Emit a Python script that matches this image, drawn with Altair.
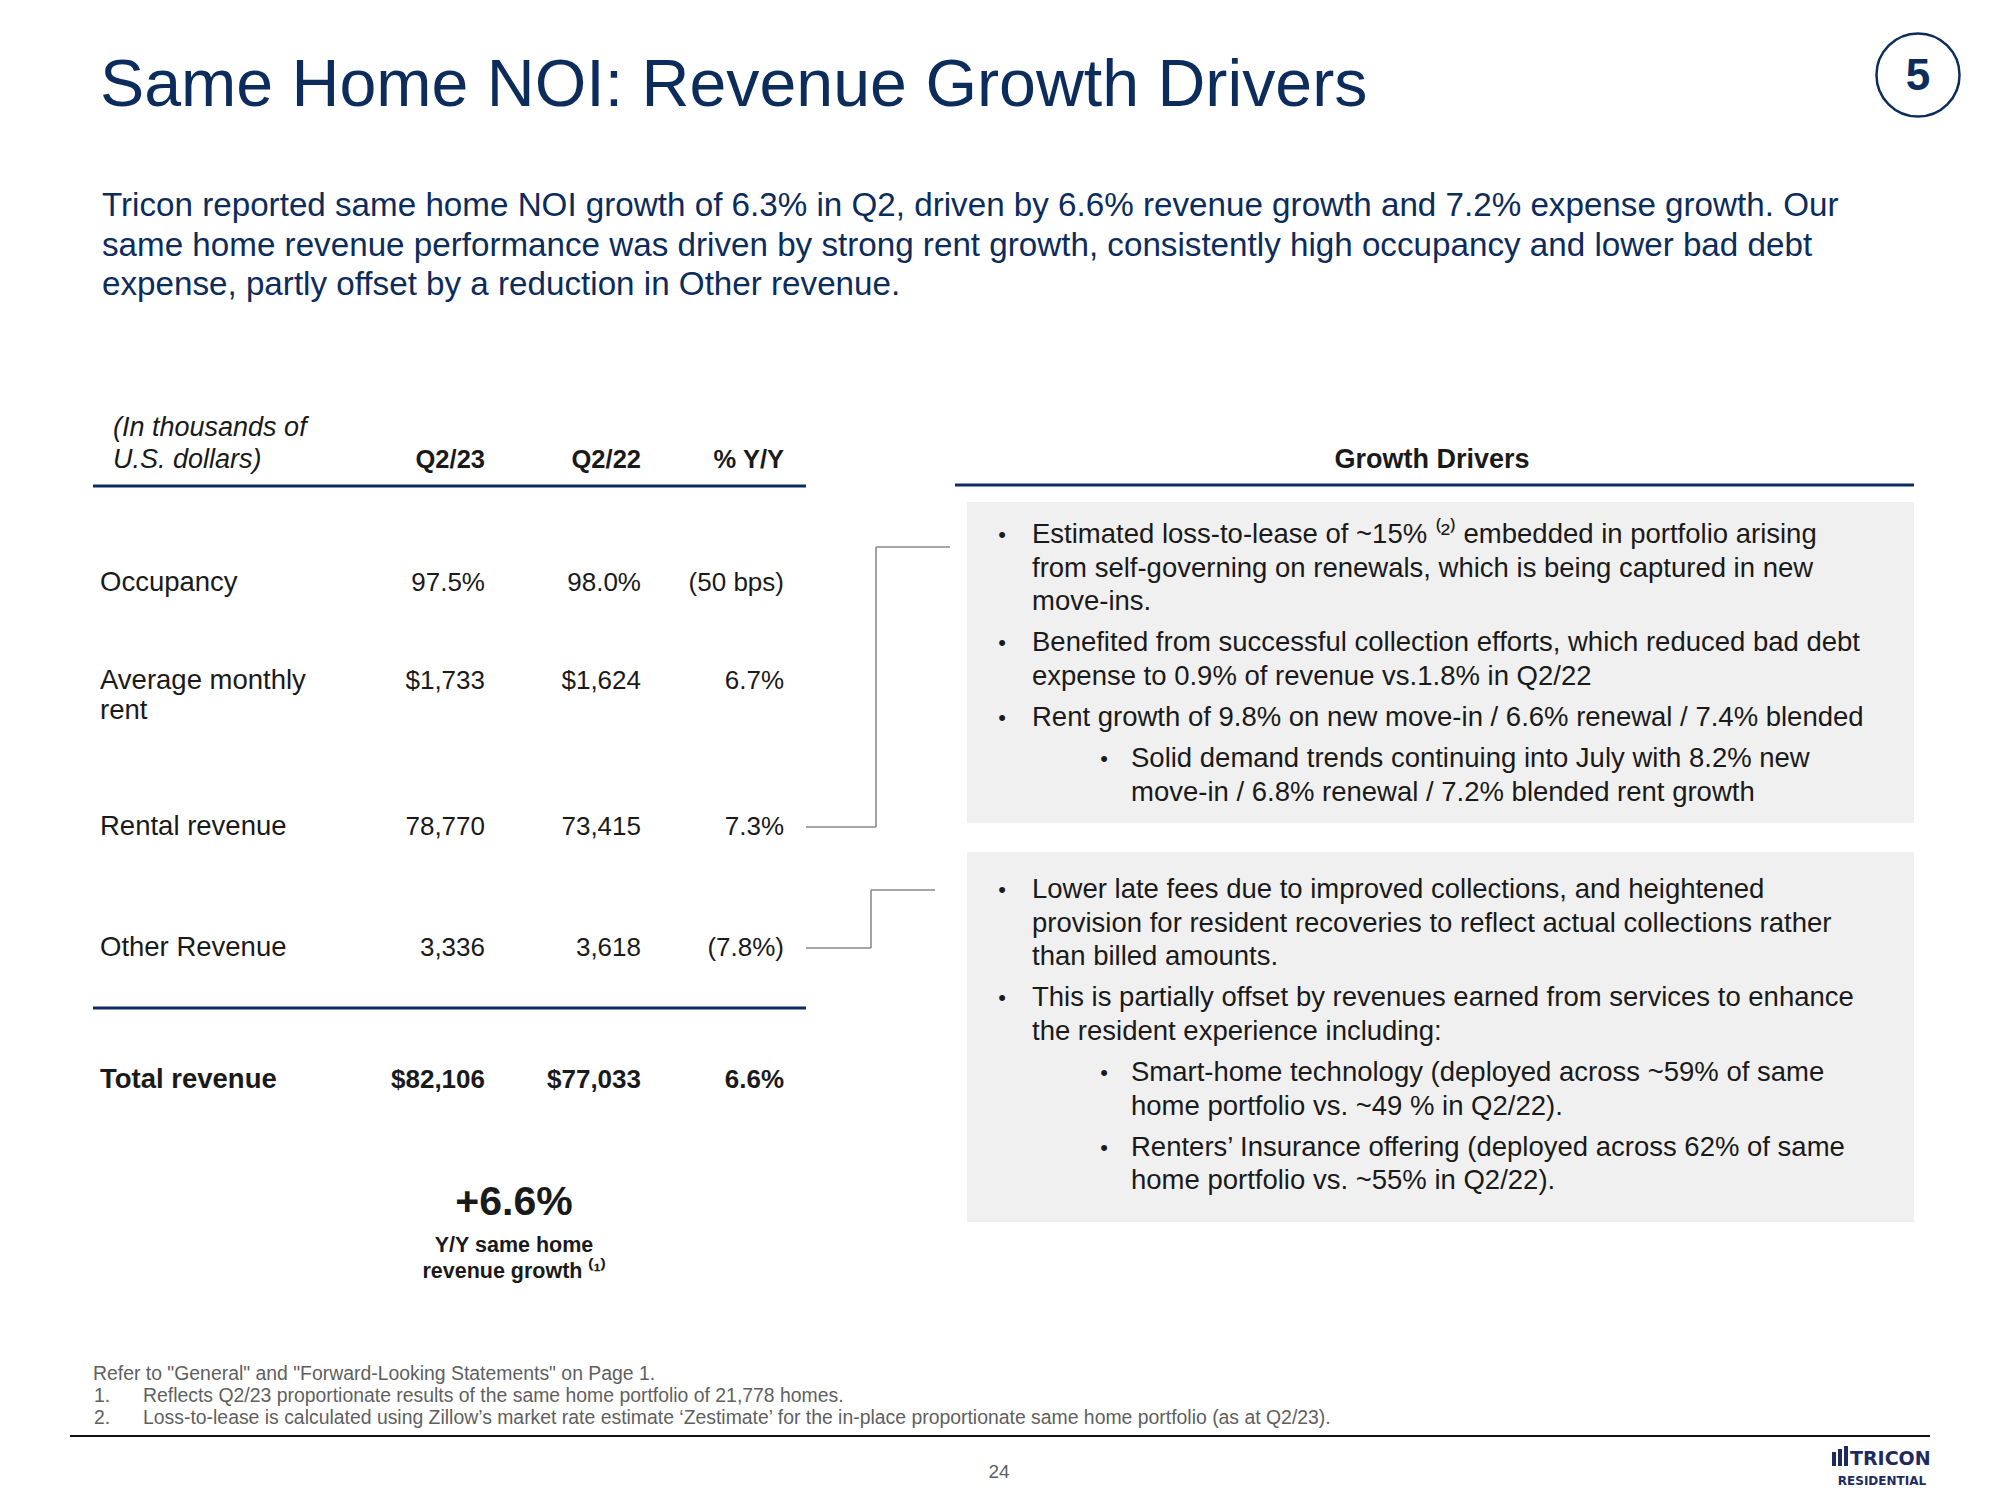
import altair as alt
import pandas as pd

# ---------------- content ----------------
title = "Same Home NOI: Revenue Growth Drivers"
section_no = "5"
intro_lines = [
    "Tricon reported same home NOI growth of 6.3% in Q2, driven by 6.6% revenue growth and 7.2% expense growth. Our",
    "same home revenue performance was driven by strong rent growth, consistently high occupancy and lower bad debt",
    "expense, partly offset by a reduction in Other revenue.",
]
unit_note = ["(In thousands of", "U.S. dollars)"]
col_headers = ["Q2/23", "Q2/22", "% Y/Y"]
row_labels = [["Occupancy"], ["Average monthly", "rent"], ["Rental revenue"], ["Other Revenue"], ["Total revenue"]]
q2_23 = ["97.5%", "$1,733", "78,770", "3,336", "$82,106"]
q2_22 = ["98.0%", "$1,624", "73,415", "3,618", "$77,033"]
yoy = ["(50 bps)", "6.7%", "7.3%", "(7.8%)", "6.6%"]
headline_value = "+6.6%"
headline_caption = ["Y/Y same home", "revenue growth \u207d\u00b9\u207e"]
drivers_title = "Growth Drivers"
box1_items = [
    (0, ["Estimated loss-to-lease of ~15% \u207d\u00b2\u207e embedded in portfolio arising",
         "from self-governing on renewals, which is being captured in new",
         "move-ins."]),
    (0, ["Benefited from successful collection efforts, which reduced bad debt",
         "expense to 0.9% of revenue vs.1.8% in Q2/22"]),
    (0, ["Rent growth of 9.8% on new move-in / 6.6% renewal / 7.4% blended"]),
    (1, ["Solid demand trends continuing into July with 8.2% new",
         "move-in / 6.8% renewal / 7.2% blended rent growth"]),
]
box2_items = [
    (0, ["Lower late fees due to improved collections, and heightened",
         "provision for resident recoveries to reflect actual collections rather",
         "than billed amounts."]),
    (0, ["This is partially offset by revenues earned from services to enhance",
         "the resident experience including:"]),
    (1, ["Smart-home technology (deployed across ~59% of same",
         "home portfolio vs. ~49 % in Q2/22)."]),
    (1, ["Renters\u2019 Insurance offering (deployed across 62% of same",
         "home portfolio vs. ~55% in Q2/22)."]),
]
footnote_intro = 'Refer to "General" and "Forward-Looking Statements" on Page 1.'
footnotes = [
    "Reflects Q2/23 proportionate results of the same home portfolio of 21,778 homes.",
    "Loss-to-lease is calculated using Zillow\u2019s market rate estimate \u2018Zestimate\u2019 for the in-place proportionate same home portfolio (as at Q2/23).",
]
page_no = "24"
logo_words = ["TRICON", "RESIDENTIAL"]
logo_bar_heights = [14, 17, 20]

# ---------------- layout / style ----------------
NAVY = "#0c2c5c"
INK = "#1a1a1a"
GREY = "#5f5f5f"
CONNECTOR = "#8a8a8a"
BOX = "#f0f0f0"
LOGO = "#1f2b5e"
FONT = "Liberation Sans"

W, H = 1984, 1484
X = alt.X("x:Q", scale=alt.Scale(domain=[8, 8 + W], nice=False, zero=False), axis=None)
Y = alt.Y("y:Q", scale=alt.Scale(domain=[8, 8 + H], nice=False, zero=False, reverse=True), axis=None)


def text_layer(rows, **mk):
    df = pd.DataFrame(rows, columns=["x", "y", "t"])
    base = dict(font=FONT, baseline="middle", align="left")
    base.update(mk)
    return alt.Chart(df).mark_text(**base).encode(x=X, y=Y, text="t:N")


def rule_layer(rows, color, width):
    df = pd.DataFrame(rows, columns=["x", "x2", "y", "y2"])
    return alt.Chart(df).mark_rule(color=color, strokeWidth=width).encode(
        x=X, x2="x2:Q", y=Y, y2="y2:Q")


def rect_layer(rows, color):
    df = pd.DataFrame(rows, columns=["x", "x2", "y", "y2"])
    return alt.Chart(df).mark_rect(color=color).encode(x=X, x2="x2:Q", y=Y, y2="y2:Q")


layers = []

# title + section badge
layers.append(text_layer([(100, 106, title)], fontSize=66.3, color=NAVY, baseline="alphabetic"))
layers.append(alt.Chart(pd.DataFrame({"x": [1918], "y": [75]})).mark_point(
    shape="circle", size=6900, filled=False, color=NAVY, strokeWidth=2.5, opacity=1).encode(x=X, y=Y))
layers.append(text_layer([(1918, 77, section_no)], fontSize=44, fontWeight="bold", color=NAVY, align="center"))

# intro paragraph
intro_y0, intro_lh = 206, 39.5
layers.append(text_layer([(102, intro_y0 + i * intro_lh, s) for i, s in enumerate(intro_lines)],
                         fontSize=33.2, color=NAVY))

# ---- table ----
label_x = 100
col_x = [485, 641, 784]
row_y = [583, 681, 827, 948, 1080]
label_lh = 30
layers.append(text_layer([(113, 428 + i * 32, s) for i, s in enumerate(unit_note)],
                         fontSize=27, fontStyle="italic", color=INK))
layers.append(text_layer([(cx, 460, h) for cx, h in zip(col_x, col_headers)],
                         fontSize=25.5, fontWeight="bold", color=INK, align="right"))
layers.append(rule_layer([(93, 806, 486, 486), (93, 806, 1008, 1008)], NAVY, 3))

reg_labels, bold_labels, reg_vals, bold_vals = [], [], [], []
for i, lines in enumerate(row_labels):
    target_l = bold_labels if i == len(row_labels) - 1 else reg_labels
    target_v = bold_vals if i == len(row_labels) - 1 else reg_vals
    for j, s in enumerate(lines):
        target_l.append((label_x, row_y[i] + j * label_lh, s))
    for cx, v in zip(col_x, (q2_23[i], q2_22[i], yoy[i])):
        target_v.append((cx, row_y[i], v))
layers.append(text_layer(reg_labels, fontSize=27.5, color=INK))
layers.append(text_layer(bold_labels, fontSize=27.5, fontWeight="bold", color=INK))
layers.append(text_layer(reg_vals, fontSize=26, color=INK, align="right"))
layers.append(text_layer(bold_vals, fontSize=26, fontWeight="bold", color=INK, align="right"))

# headline figure
layers.append(text_layer([(514, 1203, headline_value)], fontSize=41, fontWeight="bold", color=INK, align="center"))
layers.append(text_layer([(514, 1246 + i * 26, s) for i, s in enumerate(headline_caption)],
                         fontSize=21.5, fontWeight="bold", color=INK, align="center"))

# connectors from table rows to driver boxes
layers.append(rule_layer([
    (806, 876, 827, 827), (876, 876, 827, 547), (876, 950, 547, 547),
    (806, 871, 948, 948), (871, 871, 948, 890), (871, 935, 890, 890),
], CONNECTOR, 1.6))

# ---- growth drivers panel ----
layers.append(text_layer([(1432, 460, drivers_title)], fontSize=27, fontWeight="bold", color=INK, align="center"))
layers.append(rule_layer([(955, 1914, 485, 485)], NAVY, 3))
layers.append(rect_layer([(967, 1914, 502, 823), (967, 1914, 852, 1222)], BOX))

bullet_x = [1002, 1104]
text_x = [1032, 1131]
line_h, para_gap = 33.6, 7.5
bullet_rows, body_rows = [], []
for items, y0 in ((box1_items, 535), (box2_items, 890)):
    y = y0
    for level, lines in items:
        bullet_rows.append((bullet_x[level], y, "\u2022"))
        for s in lines:
            body_rows.append((text_x[level], y, s))
            y += line_h
        y += para_gap
layers.append(text_layer(bullet_rows, fontSize=22, color=INK, align="center"))
layers.append(text_layer(body_rows, fontSize=27.5, color=INK))

# ---- footnotes ----
layers.append(text_layer([(93, 1374, footnote_intro)], fontSize=19.4, color=GREY))
layers.append(text_layer([(94, 1396 + i * 22, f"{i + 1}.") for i in range(len(footnotes))], fontSize=19.4, color=GREY))
layers.append(text_layer([(143, 1396 + i * 22, s) for i, s in enumerate(footnotes)], fontSize=19.4, color=GREY))
layers.append(rule_layer([(70, 1930, 1436, 1436)], "#111111", 2))
layers.append(text_layer([(999, 1472, page_no)], fontSize=19, color=GREY, align="center"))

# logo
bars = [(1832 + k * 6, 1836 + k * 6, 1466 - h, 1466) for k, h in enumerate(logo_bar_heights)]
layers.append(rect_layer(bars, LOGO))
layers.append(text_layer([(1850, 1459, logo_words[0])], font="DejaVu Sans", fontSize=19, fontWeight="bold", color=LOGO))
layers.append(text_layer([(1882, 1481, logo_words[1])], font="DejaVu Sans", fontSize=12, fontWeight="bold", color=LOGO, align="center"))

chart = alt.layer(*layers).properties(
    width=W, height=H, padding=0,
    autosize=alt.AutoSizeParams(type="none"),
    background="white",
).configure_view(stroke=None)

chart.save("out.html", embed_options={"renderer": "svg", "actions": False})
